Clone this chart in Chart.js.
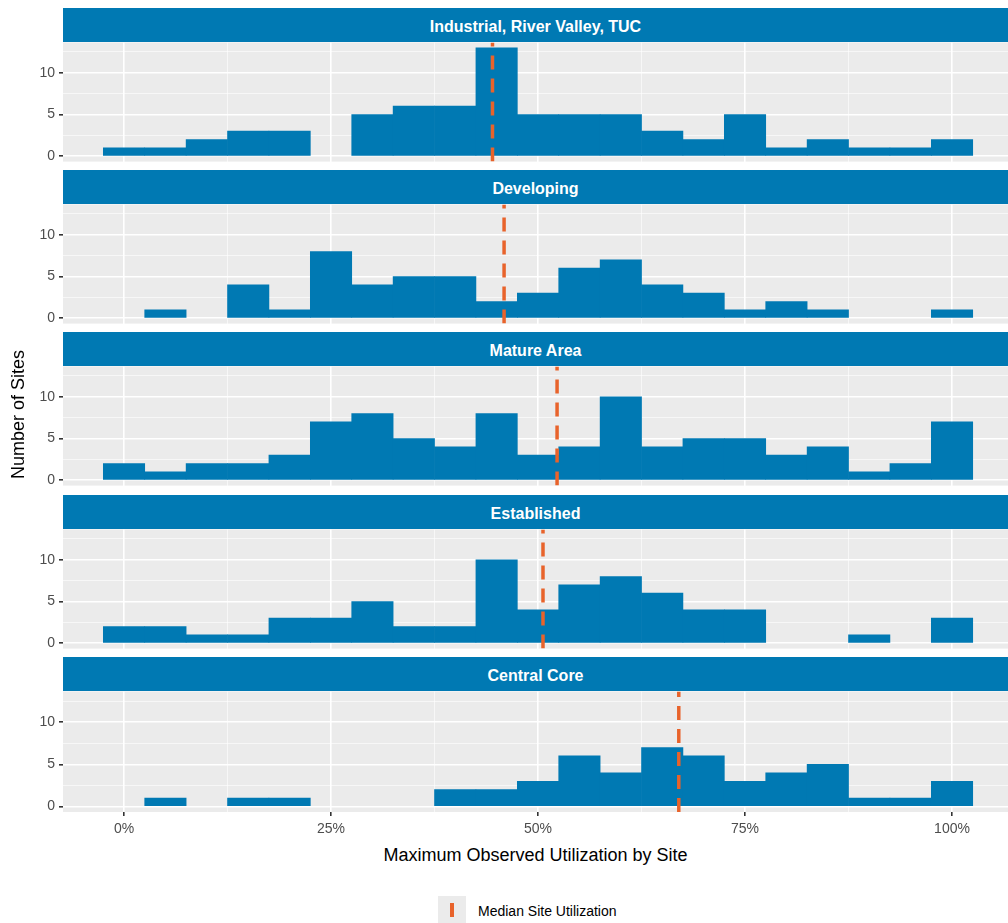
<!DOCTYPE html>
<html><head><meta charset="utf-8">
<script src="https://cdn.jsdelivr.net/npm/chart.js@4"></script>
<style>
body{margin:0;width:1008px;height:923px;background:#fff;font-family:"Liberation Sans",Arial,sans-serif;position:relative;overflow:hidden}
.strip{position:absolute;left:63px;width:945px;height:34px;background:#0079B3;color:#fff;font-weight:bold;font-size:16px;line-height:38px;text-align:center}
canvas{position:absolute;left:0}
</style></head><body>
<script>
const bins=[0,5,10,15,20,25,30,35,40,45,50,55,60,65,70,75,80,85,90,95,100];
const panels=["Industrial, River Valley, TUC","Developing","Mature Area","Established","Central Core"];
const industrial=[1,1,2,3,3,0,5,6,6,13,5,5,5,3,2,5,1,2,1,1,2];
const developing=[0,1,0,4,1,8,4,5,5,2,3,6,7,4,3,1,2,1,0,0,1];
const mature=[2,1,2,2,3,7,8,5,4,8,3,4,10,4,5,5,3,4,1,2,7];
const established=[2,2,1,1,3,3,5,2,2,10,4,7,8,6,4,4,0,0,1,0,3];
const central=[0,1,0,1,1,0,0,0,2,2,3,6,4,7,6,3,4,5,1,1,3];
const medians=[44.5,45.9,52.3,50.6,67.0];
const xTicks=[0,25,50,75,100];
const yTicks=[0,5,10];
const series=[industrial,developing,mature,established,central];
const tops=[8,170,332,495,657];
const bg={id:'bg',beforeDraw(c){const a=c.chartArea,x=c.ctx;x.save();x.fillStyle='#EBEBEB';x.fillRect(a.left,a.top,a.right-a.left,a.bottom-a.top);x.restore();}};
panels.forEach((name,i)=>{
  const s=document.createElement('div');s.className='strip';s.style.top=tops[i]+'px';s.textContent=name;document.body.appendChild(s);
  const last=i===4;
  const cv=document.createElement('canvas');
  const h=last?165:144;
  cv.width=1008;cv.height=h;
  cv.style.top=(tops[i]+34-12)+'px';cv.style.width='1008px';cv.style.height=h+'px';
  document.body.appendChild(cv);
  new Chart(cv,{
    data:{datasets:[
      {type:'bar',data:bins.map((b,j)=>({x:b,y:series[i][j]})).filter(d=>d.y>0),backgroundColor:'#0079B3',barPercentage:1,categoryPercentage:1,order:2},
      {type:'line',data:[{x:medians[i],y:-0.65},{x:medians[i],y:13.65}],borderColor:'#E8632B',borderWidth:3.5,borderDash:[14,9],pointRadius:0,order:1}
    ]},
    options:{responsive:false,animation:false,devicePixelRatio:1,
      layout:{padding:0},
      plugins:{legend:{display:false},tooltip:{enabled:false}},
      scales:{
        x:{type:'linear',min:-7.37,max:106.76,offset:false,
          afterBuildTicks(sc){sc.ticks=[0,12.5,25,37.5,50,62.5,75,87.5,100].map(v=>({value:v}));},
          afterFit(sc){sc.height=last?32:0;},
          ticks:{display:last,color:'#4D4D4D',font:{size:14,family:'Liberation Sans'},padding:5,autoSkip:false,maxRotation:0,
            callback:v=>xTicks.includes(v)?v+'%':''},
          grid:{offset:false,color:'#fff',lineWidth:c=>xTicks.includes(c.tick&&c.tick.value)?1.6:0.6,drawTicks:last,tickLength:4,tickColor:c=>xTicks.includes(c.tick&&c.tick.value)?'#333':'rgba(0,0,0,0)'},
          border:{display:false}},
        y:{type:'linear',min:-0.65,max:13.65,
          afterBuildTicks(sc){sc.ticks=[0,2.5,5,7.5,10,12.5].map(v=>({value:v}));},
          afterFit(sc){sc.width=63;},
          ticks:{color:'#4D4D4D',font:{size:14,family:'Liberation Sans'},padding:4,autoSkip:false,callback:v=>yTicks.includes(v)?String(v):''},
          grid:{color:'#fff',lineWidth:c=>yTicks.includes(c.tick&&c.tick.value)?1.6:0.6,tickLength:4,tickColor:c=>yTicks.includes(c.tick&&c.tick.value)?'#333':'rgba(0,0,0,0)'},
          border:{display:false}}
      }},
    plugins:[bg]
  });
});
</script>
<div style="position:absolute;left:0;top:340px;width:36px;height:160px;"><div style="position:absolute;left:-62px;top:64px;width:160px;text-align:center;transform:rotate(-90deg);font-size:18px;color:#000">Number of Sites</div></div>
<div style="position:absolute;left:63px;width:945px;top:845px;text-align:center;font-size:18px;color:#000">Maximum Observed Utilization by Site</div>
<div style="position:absolute;left:438px;top:896px;width:28px;height:28px;background:#EBEBEB"><div style="position:absolute;left:12px;top:7px;width:3.5px;height:14px;background:#E8632B"></div></div>
<div style="position:absolute;left:478px;top:903px;font-size:14px;color:#000">Median Site Utilization</div>
</body></html>
